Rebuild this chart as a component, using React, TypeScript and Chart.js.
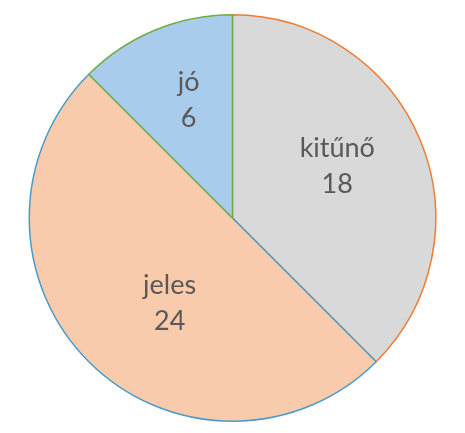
import React, { useEffect, useRef } from "react";
import { Chart, registerables } from "chart.js";

Chart.register(...registerables);

const categories = ["kitűnő", "jeles", "jó"];
const values = [18, 24, 6];
const fillColors = ["#D9D9D9", "#F8CBAD", "#A9CCEC"];
const borderColors = ["#ED7D31", "#4A9BC9", "#70AD47"];

// label placement ("best fit"): radius fraction and angle shift (deg) per slice
const labelRadiusFrac = [0.575, 0.52, 0.62];
const labelAngleShift = [-3.8, -8.5, 2.1];

const labelPlugin = {
  id: "sliceLabels",
  afterDatasetsDraw(chart: any) {
    const ctx = chart.ctx;
    const meta = chart.getDatasetMeta(0);
    ctx.save();
    ctx.fillStyle = "#595959";
    ctx.font = "27px Lato";
    ctx.textAlign = "center";
    ctx.textBaseline = "middle";
    meta.data.forEach((arc: any, i: number) => {
      const { x, y, startAngle, endAngle, outerRadius } = arc.getProps(
        ["x", "y", "startAngle", "endAngle", "outerRadius"],
        true
      );
      const mid = (startAngle + endAngle) / 2 + (labelAngleShift[i] * Math.PI) / 180;
      const r = outerRadius * labelRadiusFrac[i];
      const cx = x + Math.cos(mid) * r;
      const cy = y + Math.sin(mid) * r;
      ctx.fillText(String(chart.data.labels[i]), cx, cy - 18);
      ctx.fillText(String(chart.data.datasets[0].data[i]), cx, cy + 18);
    });
    ctx.restore();
  },
};

export default function App() {
  const ref = useRef<HTMLCanvasElement>(null);
  useEffect(() => {
    if (!ref.current) return;
    const chart = new Chart(ref.current, {
      type: "pie",
      data: {
        labels: categories,
        datasets: [
          {
            data: values,
            backgroundColor: fillColors,
            borderColor: borderColors,
            borderWidth: 1.5,
          },
        ],
      },
      options: {
        animation: false,
        responsive: false,
        maintainAspectRatio: false,
        layout: { padding: { top: 6, bottom: 3, left: 0, right: 0 } },
        plugins: {
          legend: { display: false },
          tooltip: { enabled: false },
        },
      },
      plugins: [labelPlugin],
    });
    return () => chart.destroy();
  }, []);
  return (
    <div style={{ width: 449, height: 417 }}>
      <canvas ref={ref} width={449} height={417} style={{ display: "block" }} />
    </div>
  );
}
